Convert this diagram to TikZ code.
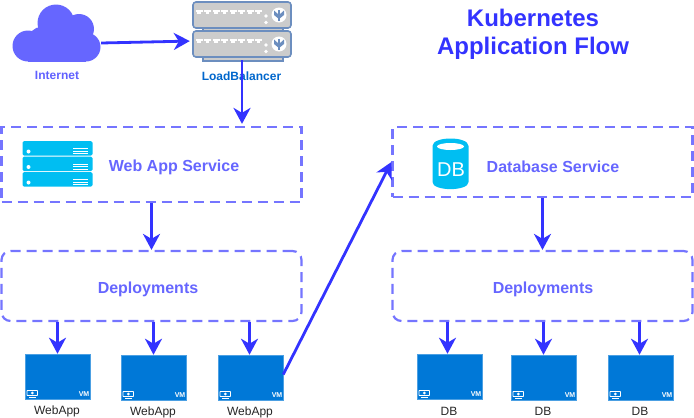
\documentclass[tikz,border=0pt]{standalone}
\usepackage{fontspec}
\setmainfont{Liberation Sans}
\usetikzlibrary{arrows.meta}
\definecolor{flowblue}{HTML}{3333FF}
\definecolor{boxblue}{HTML}{6666FF}
\definecolor{lbblue}{HTML}{0066CC}
\definecolor{vmblue}{HTML}{0078D7}
\definecolor{skyblue}{HTML}{00BEF2}
\definecolor{rackgrey}{HTML}{CCCCCC}
\definecolor{rackline}{HTML}{6C8EBF}
\tikzset{
  flow/.style={draw=flowblue, line width=2.8pt, -{Stealth[length=16pt,width=17pt,inset=5pt]}},
  svcbox/.style={draw=boxblue!90!white, line width=2.2pt, dash pattern=on 10pt off 6pt, minimum width=300pt, inner sep=0pt},
  svclabel/.style={text=boxblue, font=\bfseries\fontsize{16}{16}\selectfont},
  vmbox/.style={fill=vmblue, draw=vmblue!70!white, line width=0.5pt, minimum width=65pt, minimum height=45pt, inner sep=0pt},
  vmlabel/.style={font=\fontsize{12}{12}\selectfont, text=black!85, inner sep=0pt},
  rack/.style={fill=rackgrey, draw=rackline, line width=1.6pt, rounded corners=3pt},
}
% one virtual machine with its small marks
\newcommand{\vmnode}[3]{
  \node[vmbox] (#1) at (#2,#3) {};
  \draw[white, line width=0.9pt, rounded corners=0.5pt] (#2-30.5,#3+14) rectangle (#2-20,#3+19);
  \fill[white] (#2-25.2,#3+16.5) circle (1.5pt);
  \fill[white] (#2-29,#3+20) rectangle (#2-21.5,#3+21);
  \node[text=white, inner sep=0pt, font=\bfseries\fontsize{7}{7}\selectfont] (#1mark) at (#2+26.5,#3+17.5) {VM};
}
% one unit of the load balancer
\newcommand{\rackunit}[1]{
  \fill[rackgrey, draw=rackline, line width=1.2pt] (203,#1+25) rectangle (283,#1+30);
  \draw[rack] (193,#1) rectangle (291,#1+26);
  \foreach \px in {199,207.5,...,259} {
    \fill[white] (\px-3.5,#1+7.5) rectangle (\px+3.5,#1+10);
    \fill[white] (\px-1.8,#1+10) rectangle (\px+1.8,#1+12);
  }
  \fill[white] (266,#1+14) circle (1.8pt);
  \fill[white] (266,#1+20.5) circle (1.8pt);
  \fill[white] (279,#1+13) circle (7.5pt);
  \fill[rackline] (277.8,#1+8) rectangle (280.2,#1+19);
  \fill[rackline] (279,#1+13) -- (274,#1+8.5) -- (274,#1+13) -- (279,#1+17) -- (284,#1+13) -- (284,#1+8.5) -- cycle;
}
\begin{document}
\begin{tikzpicture}[x=1pt,y=-1pt]
\useasboundingbox (0,0) rectangle (694,418);

% title
\node[text=flowblue, align=center, font=\bfseries\fontsize{24}{28}\selectfont] (title) at (533,34) {Kubernetes\\Application Flow};

% internet
\fill[boxblue] (28,46) circle (15.5pt);
\fill[boxblue] (41,39) circle (12pt);
\fill[boxblue] (56,23) circle (18.5pt);
\fill[boxblue] (79,29) circle (15pt);
\fill[boxblue] (86,47) circle (14.5pt);
\fill[boxblue] (28,38) rectangle (86,61.5);
\node[minimum width=88pt, minimum height=36pt, inner sep=0pt] (internet) at (57,43) {};
\node[text=boxblue!90!flowblue, font=\bfseries\fontsize{12}{12}\selectfont] (internetlbl) at (57,75) {Internet};

% load balancer
\rackunit{2}
\rackunit{31}
\node[minimum width=98pt, minimum height=58pt, inner sep=0pt] (lb) at (242,31) {};
\node[minimum width=98pt, minimum height=32pt, inner sep=0pt] (lbin) at (242,41) {};
\node[text=lbblue, font=\bfseries\fontsize{12}{12}\selectfont] (lblbl) at (241.5,76) {LoadBalancer};

% service and deployment boxes
\node[svcbox, minimum height=75pt] (websvc) at (151.5,164.5) {};
\node[svcbox, minimum height=70pt, rounded corners=9pt] (webdep) at (151.5,286) {};
\node[svcbox, minimum height=70pt] (dbsvc) at (542.5,162) {};
\node[svcbox, minimum height=70pt, rounded corners=9pt] (dbdep) at (542.5,286) {};
\node[svclabel] (websvclbl) at (174,167) {Web App Service};
\node[svclabel] (webdeplbl) at (148,289) {Deployments};
\node[svclabel] (dbsvclbl) at (553,167) {Database Service};
\node[svclabel] (dbdeplbl) at (543,289) {Deployments};

% server icon
\foreach \py in {141,156.5,172} {
  \fill[skyblue, rounded corners=1.5pt] (22.5,\py) rectangle (92.5,\py+14.5);
  \fill[white] (28.5,\py+10.5) circle (2pt);
  \fill[white] (73,\py+7) rectangle (88,\py+8);
  \fill[white] (73,\py+9.5) rectangle (88,\py+10.5);
  \fill[white] (73,\py+12) rectangle (88,\py+13);
}

% database icon
\fill[skyblue] (432.5,146) -- (432.5,182) .. controls (432.5,191.5) and (468.5,191.5) .. (468.5,182) -- (468.5,146) .. controls (468.5,136) and (432.5,136) .. (432.5,146) -- cycle;
\fill[white] (450.5,146.5) ellipse (13.5pt and 3.5pt);
\node[text=white, font=\fontsize{20}{20}\selectfont, inner sep=0pt] (dblbl) at (451,170) {DB};

% virtual machines
\vmnode{web0}{57.5}{376.5}
\vmnode{web1}{153.5}{377.5}
\vmnode{web2}{250.5}{377.5}
\vmnode{db0}{449.5}{376.5}
\vmnode{db1}{543.5}{377.5}
\vmnode{db2}{640.5}{377.5}
\node[vmlabel] (web0lbl) at (57,411.5) {WebApp};
\node[vmlabel] (web1lbl) at (153,412) {WebApp};
\node[vmlabel] (web2lbl) at (250,412) {WebApp};
\node[vmlabel] (db0lbl) at (449,411) {DB};
\node[vmlabel] (db1lbl) at (543,411.5) {DB};
\node[vmlabel] (db2lbl) at (640,411.5) {DB};

% connectors
\draw[flow, shorten >=3pt] (internet.east) -- (lbin.west);
\draw[flow, shorten >=2pt] (lb.south) -- (lb.south |- websvc.north);
\draw[flow] (websvc.south) -- (webdep.north);
\draw[flow] (dbsvc.south) -- (dbdep.north);
\draw[flow] (web0.north |- webdep.south) -- (web0.north);
\draw[flow] (web1.north |- webdep.south) -- (web1.north);
\draw[flow] ([xshift=-1pt]web2.north |- webdep.south) -- ([xshift=-1pt]web2.north);
\draw[flow] ([xshift=-2pt]db0.north |- dbdep.south) -- ([xshift=-2pt]db0.north);
\draw[flow] (db1.north |- dbdep.south) -- (db1.north);
\draw[flow] ([xshift=-1pt]db2.north |- dbdep.south) -- ([xshift=-1pt]db2.north);
\draw[flow] ([yshift=3pt]web2.east) -- (dbsvc.west);
\end{tikzpicture}
\end{document}
